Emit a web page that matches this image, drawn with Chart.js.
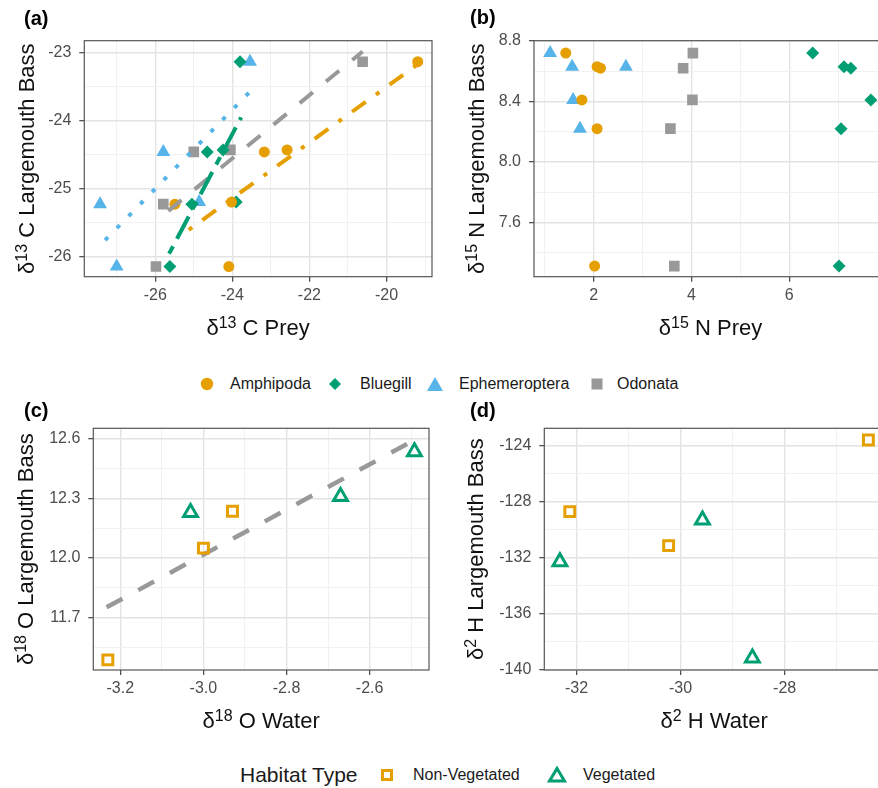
<!DOCTYPE html>
<html>
<head>
<meta charset="utf-8">
<script src="https://cdn.jsdelivr.net/npm/chart.js@4.4.1/dist/chart.umd.min.js"></script>
<style>
  html, body { margin: 0; padding: 0; background: #fff; overflow: hidden; }
  body { width: 878px; height: 788px; position: relative; font-family: "Liberation Sans", Arial, sans-serif; }
  canvas { position: absolute; }
  .lg { position: absolute; color: #1a1a1a; font-size: 16px; line-height: 20px; white-space: nowrap; }
  .lg-title { position: absolute; color: #1a1a1a; font-size: 21px; line-height: 26px; white-space: nowrap; }
  .sym { position: absolute; }
</style>
</head>
<body>
<canvas id="pa" width="440" height="345" style="left:0;top:0"></canvas>
<canvas id="pb" width="455" height="345" style="left:440px;top:0"></canvas>
<canvas id="pc" width="440" height="345" style="left:0;top:395px"></canvas>
<canvas id="pd" width="455" height="345" style="left:440px;top:395px"></canvas>

<!-- prey legend -->
<svg class="sym" style="left:199px;top:376px" width="16" height="16"><circle cx="8" cy="8" r="6.2" fill="#E69F00"/></svg>
<div class="lg" style="left:230px;top:374px">Amphipoda</div>
<svg class="sym" style="left:327px;top:376px" width="16" height="16"><polygon points="8,2 14,8 8,14 2,8" fill="#009E73"/></svg>
<div class="lg" style="left:360px;top:374px">Bluegill</div>
<svg class="sym" style="left:427px;top:376px" width="16" height="16"><polygon points="8,1 16,15 0,15" fill="#56B4E9"/></svg>
<div class="lg" style="left:459px;top:374px">Ephemeroptera</div>
<svg class="sym" style="left:589px;top:376px" width="16" height="16"><rect x="2.5" y="2.5" width="11" height="11" fill="#999999"/></svg>
<div class="lg" style="left:617px;top:374px">Odonata</div>

<!-- habitat legend -->
<div class="lg-title" style="left:240px;top:762px">Habitat Type</div>
<svg class="sym" style="left:378px;top:766px" width="18" height="18"><rect x="4.5" y="4.5" width="9" height="9" fill="none" stroke="#E69F00" stroke-width="3"/></svg>
<div class="lg" style="left:413px;top:765px">Non-Vegetated</div>
<svg class="sym" style="left:546px;top:765px" width="22" height="20"><polygon points="11,3.5 18.5,16 3.5,16" fill="none" stroke="#009E73" stroke-width="3"/></svg>
<div class="lg" style="left:583px;top:765px">Vegetated</div>

<script>
const FONT = '"Liberation Sans", Arial, sans-serif';
const orange = '#E69F00', green = '#009E73', blue = '#56B4E9', grey = '#999999';

// (a) d13C, prey vs largemouth bass
const amphC13Prey = [-25.49, -24.02, -24.09, -23.17, -22.58, -19.19];
const amphC13Bass = [-25.23, -25.20, -26.15, -24.46, -24.43, -23.13];
const blueC13Prey = [-23.80, -24.65, -24.24, -25.05, -23.90, -25.62];
const blueC13Bass = [-23.13, -24.46, -24.43, -25.23, -25.20, -26.15];
const ephC13Prey = [-23.54, -25.79, -27.43, -24.86, -27.00];
const ephC13Bass = [-23.13, -24.46, -25.23, -25.20, -26.15];
const odoC13Prey = [-20.62, -25.00, -24.05, -25.79, -25.98];
const odoC13Bass = [-23.13, -24.46, -24.43, -25.23, -26.15];
// fitted lines (start, end)
const amphC13FitX = [-25.13, -19.22], amphC13FitY = [-25.61, -23.18];
const blueC13FitX = [-25.64, -23.77], blueC13FitY = [-25.96, -23.95];
const ephC13FitX = [-27.30, -23.54], ephC13FitY = [-25.76, -23.57];
const odoC13FitX = [-25.66, -20.62], odoC13FitY = [-25.33, -22.98];

// (b) d15N
const amphN15Prey = [1.43, 2.07, 2.14, 1.76, 2.07, 2.02];
const amphN15Bass = [8.72, 8.63, 8.62, 8.41, 8.22, 7.31];
const blueN15Prey = [6.48, 7.12, 7.26, 7.67, 7.06, 7.02];
const blueN15Bass = [8.72, 8.63, 8.62, 8.41, 8.22, 7.31];
const ephN15Prey = [1.11, 1.56, 2.66, 1.58, 1.72];
const ephN15Bass = [8.72, 8.63, 8.63, 8.41, 8.22];
const odoN15Prey = [4.03, 3.83, 4.02, 3.57, 3.65];
const odoN15Bass = [8.72, 8.62, 8.41, 8.22, 7.31];

// (c) d18O, water vs bass
const nonVegO18Water = [-3.23, -3.00, -2.93];
const nonVegO18Bass = [11.487, 12.05, 12.236];
const vegO18Water = [-3.031, -2.67, -2.492];
const vegO18Bass = [12.23, 12.31, 12.536];
const o18FitX = [-3.233, -2.492], o18FitY = [11.752, 12.595];

// (d) d2H
const nonVegH2Water = [-26.39, -32.13, -30.23];
const nonVegH2Bass = [-123.6, -128.71, -131.14];
const vegH2Water = [-32.32, -29.58, -28.62];
const vegH2Bass = [-132.29, -129.31, -139.16];

const pts = (xs, ys) => xs.map((x, i) => ({ x: x, y: ys[i] }));

function richText(c, parts, x, y) {
  const big = '22px ' + FONT, small = '16px ' + FONT;
  let w = 0;
  parts.forEach(p => { c.font = p[1] ? small : big; w += c.measureText(p[0]).width; });
  let px = x - w / 2;
  c.textAlign = 'left';
  c.textBaseline = 'alphabetic';
  parts.forEach(p => {
    c.font = p[1] ? small : big;
    c.fillText(p[0], px, p[1] ? y - 7 : y);
    px += c.measureText(p[0]).width;
  });
}

// panel frame, axis titles and panel tag
const frame = {
  id: 'frame',
  afterDatasetsDraw(chart) {
    const a = chart.chartArea, c = chart.ctx;
    c.save();
    c.strokeStyle = '#555';
    c.lineWidth = 1.2;
    c.strokeRect(a.left, a.top, a.right - a.left, a.bottom - a.top);
    c.restore();
  },
  afterDraw(chart, args, o) {
    const a = chart.chartArea, c = chart.ctx;
    c.save();
    c.fillStyle = '#111';
    richText(c, o.xTitle, (a.left + a.right) / 2, a.bottom + 58);
    c.translate(a.left - o.yGap, (a.top + a.bottom) / 2);
    c.rotate(-Math.PI / 2);
    richText(c, o.yTitle, 0, 0);
    c.restore();
    c.save();
    c.fillStyle = '#000';
    c.font = 'bold 20px ' + FONT;
    c.textAlign = 'left';
    c.textBaseline = 'alphabetic';
    c.fillText(o.tag, o.tagX, o.tagY);
    c.restore();
  }
};

function axis(min, max, majors, minors, fmt, fit, pad) {
  const isMajor = v => majors.indexOf(v) >= 0;
  return {
    type: 'linear', min: min, max: max,
    afterBuildTicks: s => { s.ticks = majors.concat(minors).sort((p, q) => p - q).map(v => ({ value: v })); },
    afterFit: fit,
    border: { display: false },
    grid: {
      color: ctx => isMajor(ctx.tick.value) ? '#e3e3e3' : '#efefef',
      lineWidth: ctx => isMajor(ctx.tick.value) ? 1.4 : 0.9,
      tickColor: ctx => isMajor(ctx.tick.value) ? '#333' : 'rgba(0,0,0,0)',
      tickLength: 5,
      tickWidth: 1.1
    },
    ticks: {
      autoSkip: false, maxRotation: 0, minRotation: 0,
      color: '#4d4d4d', padding: pad,
      font: { size: 16, family: FONT },
      callback: v => isMajor(v) ? fmt(v) : ''
    }
  };
}

function scatter(data, style, color, r, open) {
  return {
    data: data, showLine: false,
    pointStyle: style, pointRadius: r, pointHoverRadius: r,
    pointBackgroundColor: open ? 'rgba(255,255,255,0)' : color,
    pointBorderColor: color,
    pointBorderWidth: open ? 3 : 0
  };
}

function fit(data, color, dash, width) {
  return {
    data: data, showLine: true, pointRadius: 0, pointHoverRadius: 0,
    borderColor: color, borderWidth: width, borderDash: dash,
    borderCapStyle: 'butt', fill: false
  };
}

function panel(id, datasets, pad, xs, ys, titles) {
  return new Chart(document.getElementById(id), {
    type: 'scatter',
    data: { datasets: datasets },
    plugins: [frame],
    options: {
      responsive: false, animation: false, events: [],
      layout: { padding: pad },
      scales: { x: xs, y: ys },
      plugins: { legend: { display: false }, tooltip: { enabled: false }, frame: titles }
    }
  });
}

const str = v => String(v);
const one = v => v.toFixed(1);

panel('pa', [
  fit(pts(amphC13FitX, amphC13FitY), orange, [4.2, 12.6, 16.8, 12.6], 4),
  fit(pts(blueC13FitX, blueC13FitY), green, [8.4, 8.4, 25.2, 8.4], 4),
  fit(pts(ephC13FitX, ephC13FitY), blue, [4.2, 12.6], 4),
  fit(pts(odoC13FitX, odoC13FitY), grey, [17, 17], 4),
  scatter(pts(amphC13Prey, amphC13Bass), 'circle', orange, 5.5),
  scatter(pts(blueC13Prey, blueC13Bass), 'rectRot', green, 6.5),
  scatter(pts(ephC13Prey, ephC13Bass), 'triangle', blue, 8),
  scatter(pts(odoC13Prey, odoC13Bass), 'rect', grey, 7.5)
], { top: 40.7, right: 3, left: 0, bottom: 0 },
  axis(-27.84, -18.82, [-26, -24, -22, -20], [-27, -25, -23, -21, -19], str, s => { s.height = 68.3; }, 4),
  axis(-26.30, -22.82, [-26, -25, -24, -23], [-25.5, -24.5, -23.5], str, s => { s.width = 84.3; }, 8),
  { xTitle: [['δ', 0], ['13', 1], [' C Prey', 0]], yTitle: [['δ', 0], ['13', 1], [' C Largemouth Bass', 0]], yGap: 50, tag: '(a)', tagX: 24, tagY: 24.5 });

panel('pb', [
  scatter(pts(amphN15Prey, amphN15Bass), 'circle', orange, 5.5),
  scatter(pts(blueN15Prey, blueN15Bass), 'rectRot', green, 6.5),
  scatter(pts(ephN15Prey, ephN15Bass), 'triangle', blue, 8),
  scatter(pts(odoN15Prey, odoN15Bass), 'rect', grey, 7.5)
], { top: 40.7, right: 6, left: 0, bottom: 0 },
  axis(0.78, 8.0, [2, 4, 6], [1, 3, 5, 7], str, s => { s.height = 68.3; }, 4),
  axis(7.24, 8.802, [7.6, 8.0, 8.4, 8.8], [7.4, 7.8, 8.2, 8.6], one, s => { s.width = 94; }, 8),
  { xTitle: [['δ', 0], ['15', 1], [' N Prey', 0]], yTitle: [['δ', 0], ['15', 1], [' N Largemouth Bass', 0]], yGap: 50, tag: '(b)', tagX: 30, tagY: 24 });

panel('pc', [
  scatter(pts(nonVegO18Water, nonVegO18Bass), 'rect', orange, 7, true),
  scatter(pts(vegO18Water, vegO18Bass), 'triangle', green, 8, true),
  fit(pts(o18FitX, o18FitY), grey, [18, 18], 4.5)
], { top: 33.3, right: 2.3, left: 0, bottom: 0 },
  axis(-3.265, -2.457, [-3.2, -3.0, -2.8, -2.6], [-3.1, -2.9, -2.7, -2.5], one, s => { s.height = 70; }, 4),
  axis(11.436, 12.654, [11.7, 12.0, 12.3, 12.6], [11.55, 11.85, 12.15, 12.45], one, s => { s.width = 93.3; }, 8),
  { xTitle: [['δ', 0], ['18', 1], [' O Water', 0]], yTitle: [['δ', 0], ['18', 1], [' O Largemouth Bass', 0]], yGap: 60, tag: '(c)', tagX: 24, tagY: 22 });

panel('pd', [
  scatter(pts(nonVegH2Water, nonVegH2Bass), 'rect', orange, 7, true),
  scatter(pts(vegH2Water, vegH2Bass), 'triangle', green, 8, true)
], { top: 33.3, right: 6.8, left: 0, bottom: 0 },
  axis(-32.62, -26.09, [-32, -30, -28], [-31, -29, -27], str, s => { s.height = 70; }, 4),
  axis(-140.01, -122.77, [-140, -136, -132, -128, -124], [-138, -134, -130, -126], str, s => { s.width = 104.3; }, 8),
  { xTitle: [['δ', 0], ['2', 1], [' H Water', 0]], yTitle: [['δ', 0], ['2', 1], [' H Largemouth Bass', 0]], yGap: 61, tag: '(d)', tagX: 30, tagY: 22 });
</script>
</body>
</html>
